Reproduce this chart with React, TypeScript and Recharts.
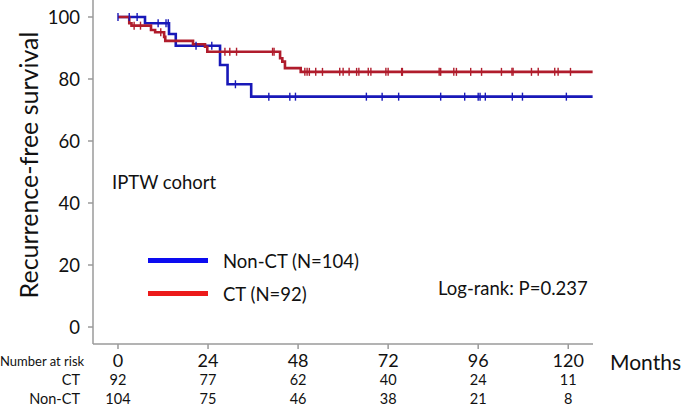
import React from "react";
import { ComposedChart, Line, Scatter, XAxis, YAxis } from "recharts";

// months since surgery shown on the x axis
const monthTicks = [0, 24, 48, 72, 96, 120];
const survivalTicks = [0, 20, 40, 60, 80, 100];

// Kaplan-Meier steps
const nonCtTimes = [0, 7.2, 13.6, 15.4, 27.2, 29.2, 35.5, 126.5];
const nonCtSurvival = [100, 98, 94.5, 90.7, 84.5, 78.3, 74.3, 74.3];
const nonCtCensored = [
  0, 3.0, 5.1, 10.7, 12.8, 13.4, 20.8, 25.0, 31.3, 40.2, 45.8, 47.3, 66.2, 70.4, 74.8, 86.0, 92.4, 96.0,
  96.5, 97.9, 105.1, 107.8, 119.5,
];

const ctTimes = [0, 3.0, 3.6, 8.8, 9.9, 12.3, 12.6, 20.0, 23.2, 23.8, 43.2, 43.8, 44.5, 48.7, 126.5];
const ctSurvival = [100, 98, 97.2, 95.8, 95.1, 93.6, 92.3, 91.2, 90.4, 88.8, 86.7, 85.6, 83.5, 82.3, 82.3];
const ctCensored = [
  4.3, 6.0, 11.4, 28.5, 29.8, 31.6, 41.2, 41.6, 49.8, 50.4, 51.0, 52.7, 54.5, 59.1, 60.0, 61.6, 63.6, 64.2,
  66.7, 67.4, 71.4, 72.0, 75.6, 75.8, 85.6, 86.0, 89.5, 90.2, 94.0, 96.9, 102.2, 105.0, 105.3, 110.2, 112.0,
  116.4, 117.3, 120.6,
];

// number at risk under each month tick
const ctAtRisk = [92, 77, 62, 40, 24, 11];
const nonCtAtRisk = [104, 75, 46, 38, 21, 8];

const FONT = "Lato, 'Liberation Sans', sans-serif";
const TEXT = "#111";
const BLUE = "#1818b8";
const RED = "#b01c2c";
const AXIS = "#9a9a9a";

function toSteps(times: number[], surv: number[]) {
  return times.map((t, i) => ({ t, s: surv[i] }));
}

function survivalAt(times: number[], surv: number[], t: number) {
  let idx = 0;
  times.forEach((time, i) => {
    if (time <= t) idx = i;
  });
  return surv[idx];
}

function toCensor(censored: number[], times: number[], surv: number[]) {
  return censored.map((t) => ({ t, s: survivalAt(times, surv, t) }));
}

const nonCtSteps = toSteps(nonCtTimes, nonCtSurvival);
const ctSteps = toSteps(ctTimes, ctSurvival);
const nonCtMarks = toCensor(nonCtCensored, nonCtTimes, nonCtSurvival);
const ctMarks = toCensor(ctCensored, ctTimes, ctSurvival);

const censorShape = (color: string) => (props: any) => {
  const { cx, cy } = props;
  return <line x1={cx} x2={cx} y1={cy - 4} y2={cy + 4} stroke={color} strokeWidth={1.4} />;
};

function MonthTick(props: any) {
  const { x, y, payload } = props;
  const i = monthTicks.indexOf(payload.value);
  return (
    <g fontFamily={FONT} textAnchor="middle" fill={TEXT}>
      <text x={x} y={y + 18} fontSize={18}>
        {payload.value}
      </text>
      <text x={x} y={y + 35.5} fontSize={14.5}>
        {ctAtRisk[i]}
      </text>
      <text x={x} y={y + 55} fontSize={14.5}>
        {nonCtAtRisk[i]}
      </text>
    </g>
  );
}

const overlay = (left: number, top: number, size: number, extra: React.CSSProperties = {}) => ({
  position: "absolute" as const,
  left,
  top,
  fontSize: size,
  fontFamily: FONT,
  color: TEXT,
  lineHeight: 1,
  transform: "translateY(-50%)",
  whiteSpace: "nowrap" as const,
  ...extra,
});

export default function App() {
  return (
    <div style={{ position: "absolute", left: 0, top: 0, width: 685, height: 406, background: "#fff", overflow: "hidden" }}>
      <ComposedChart width={685} height={406} margin={{ top: 0, right: 92, left: 0, bottom: 0 }}>
        <XAxis
          type="number"
          dataKey="t"
          domain={[-6.66, 126.6]}
          ticks={monthTicks}
          allowDataOverflow
          height={62}
          stroke={AXIS}
          strokeWidth={1.5}
          tickSize={5}
          tickMargin={0}
          tick={<MonthTick />}
        />
        <YAxis
          type="number"
          dataKey="s"
          domain={[-5.48, 105.48]}
          ticks={survivalTicks}
          allowDataOverflow
          width={93}
          stroke={AXIS}
          strokeWidth={1.5}
          tickSize={5}
          tickMargin={8}
          tick={{ fontSize: 18.5, fontFamily: FONT, fill: TEXT }}
        />
        <Line
          data={nonCtSteps}
          dataKey="s"
          type="stepAfter"
          stroke={BLUE}
          strokeWidth={2.6}
          dot={false}
          activeDot={false}
          isAnimationActive={false}
        />
        <Scatter data={nonCtMarks} dataKey="s" shape={censorShape(BLUE)} isAnimationActive={false} />
        <Line
          data={ctSteps}
          dataKey="s"
          type="stepAfter"
          stroke={RED}
          strokeWidth={2.6}
          dot={false}
          activeDot={false}
          isAnimationActive={false}
        />
        <Scatter data={ctMarks} dataKey="s" shape={censorShape(RED)} isAnimationActive={false} />
      </ComposedChart>

      <div
        style={{
          position: "absolute",
          left: 28,
          top: 165,
          transform: "translate(-50%, -50%) rotate(-90deg)",
          fontSize: 25,
          fontFamily: FONT,
          color: TEXT,
          whiteSpace: "nowrap",
          lineHeight: 1,
        }}
      >
        Recurrence-free survival
      </div>

      <div style={overlay(112, 182, 18.5)}>IPTW cohort</div>

      <div style={{ position: "absolute", left: 148, top: 258, width: 60, height: 5, background: "#0c0cf0" }} />
      <div style={overlay(223, 261, 18.5)}>Non-CT (N=104)</div>
      <div style={{ position: "absolute", left: 148, top: 291, width: 60, height: 5, background: "#ec1a1a" }} />
      <div style={overlay(223, 294, 18.5)}>CT (N=92)</div>

      <div style={overlay(438, 287.5, 18.5)}>Log-rank: P=0.237</div>

      <div style={overlay(610, 361, 21)}>Months</div>

      <div style={overlay(0, 361, 13)}>Number at risk</div>
      <div style={overlay(0, 380, 14.5, { width: 80, textAlign: "right" })}>CT</div>
      <div style={overlay(0, 398.5, 14.5, { width: 80, textAlign: "right" })}>Non-CT</div>
    </div>
  );
}
